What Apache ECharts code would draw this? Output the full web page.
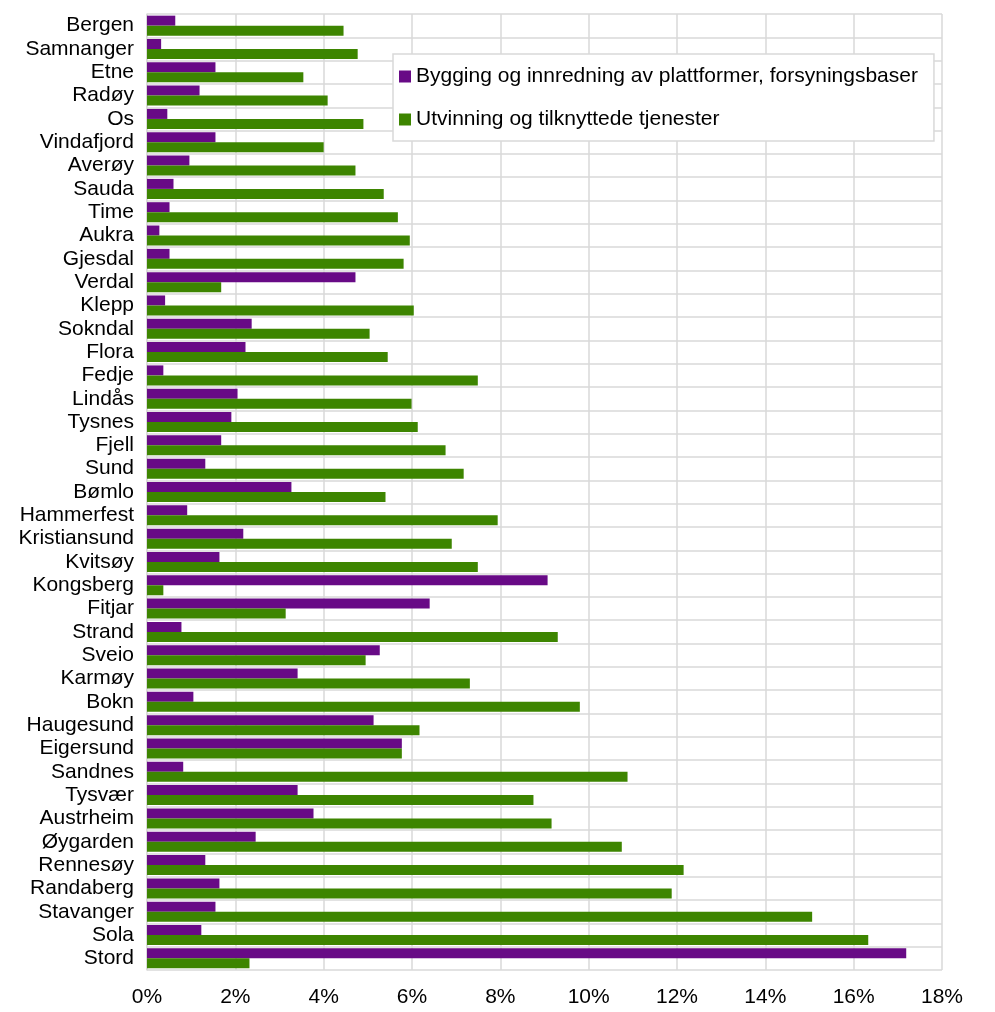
<!DOCTYPE html>
<html>
<head>
<meta charset="utf-8">
<script src="https://cdn.jsdelivr.net/npm/echarts@6/dist/echarts.min.js"></script>
<style>
  html, body { margin: 0; padding: 0; background: #fff; }
  #chart { width: 995px; height: 1012px; }
</style>
</head>
<body>
<div id="chart"></div>
<script>
// kommuner, topp til bunn
const kommuner = ['Bergen', 'Samnanger', 'Etne', 'Radøy', 'Os', 'Vindafjord', 'Averøy', 'Sauda', 'Time', 'Aukra',
  'Gjesdal', 'Verdal', 'Klepp', 'Sokndal', 'Flora', 'Fedje', 'Lindås', 'Tysnes', 'Fjell', 'Sund',
  'Bømlo', 'Hammerfest', 'Kristiansund', 'Kvitsøy', 'Kongsberg', 'Fitjar', 'Strand', 'Sveio', 'Karmøy', 'Bokn',
  'Haugesund', 'Eigersund', 'Sandnes', 'Tysvær', 'Austrheim', 'Øygarden', 'Rennesøy', 'Randaberg', 'Stavanger', 'Sola', 'Stord']

const bygging = [0.64, 0.32, 1.55, 1.19, 0.46, 1.55, 0.96, 0.60, 0.51, 0.28,
  0.51, 4.72, 0.41, 2.37, 2.23, 0.37, 2.05, 1.91, 1.68, 1.32,
  3.27, 0.91, 2.18, 1.64, 9.07, 6.40, 0.78, 5.27, 3.41, 1.05,
  5.13, 5.77, 0.82, 3.41, 3.77, 2.46, 1.32, 1.64, 1.55, 1.23, 17.19]

const utvinning = [4.45, 4.77, 3.54, 4.09, 4.90, 4.00, 4.72, 5.36, 5.68, 5.95,
  5.81, 1.68, 6.04, 5.04, 5.45, 7.49, 5.99, 6.13, 6.76, 7.17,
  5.40, 7.94, 6.90, 7.49, 0.37, 3.14, 9.30, 4.95, 7.31, 9.80,
  6.17, 5.77, 10.88, 8.75, 9.16, 10.75, 12.15, 11.88, 15.06, 16.33, 2.32]

const xTicks = { min: 0, max: 18, interval: 2 }

const chart = echarts.init(document.getElementById('chart'))

chart.setOption({
  animation: false,
  textStyle: { fontFamily: 'Liberation Sans' },
  color: ['#680a86', '#3d8500'],
  legend: {
    orient: 'vertical',
    left: 393,
    top: 54,
    padding: [12, 16, 11, 6],
    itemGap: 22,
    itemWidth: 12,
    itemHeight: 12,
    backgroundColor: '#fff',
    borderColor: '#d9d9d9',
    borderWidth: 1.5,
    icon: 'rect',
    textStyle: { fontSize: 21, color: '#000' },
    data: ['Bygging og innredning av plattformer, forsyningsbaser', 'Utvinning og tilknyttede tjenester']
  },
  grid: {
    left: 147,
    right: 53,
    top: 14,
    bottom: 42
  },
  xAxis: {
    type: 'value',
    min: xTicks.min,
    max: xTicks.max,
    interval: xTicks.interval,
    axisLine: { show: false },
    axisTick: { show: false },
    axisLabel: {
      formatter: '{value}%',
      color: '#000',
      fontSize: 21,
      margin: 17
    },
    splitLine: { lineStyle: { color: '#d9d9d9', width: 1.5 } }
  },
  yAxis: {
    type: 'category',
    inverse: true,
    data: kommuner,
    axisLine: { show: true, lineStyle: { color: '#d9d9d9', width: 1.5 } },
    axisTick: { show: false },
    axisLabel: {
      color: '#000',
      fontSize: 21,
      margin: 13,
      interval: 0
    },
    splitLine: { show: true, interval: 0, lineStyle: { color: '#d9d9d9', width: 1.5 } }
  },
  series: [
    {
      name: 'Bygging og innredning av plattformer, forsyningsbaser',
      type: 'bar',
      data: bygging,
      barWidth: 10,
      barGap: '0%'
    },
    {
      name: 'Utvinning og tilknyttede tjenester',
      type: 'bar',
      data: utvinning,
      barWidth: 10,
      barGap: '0%'
    }
  ]
})
</script>
</body>
</html>
